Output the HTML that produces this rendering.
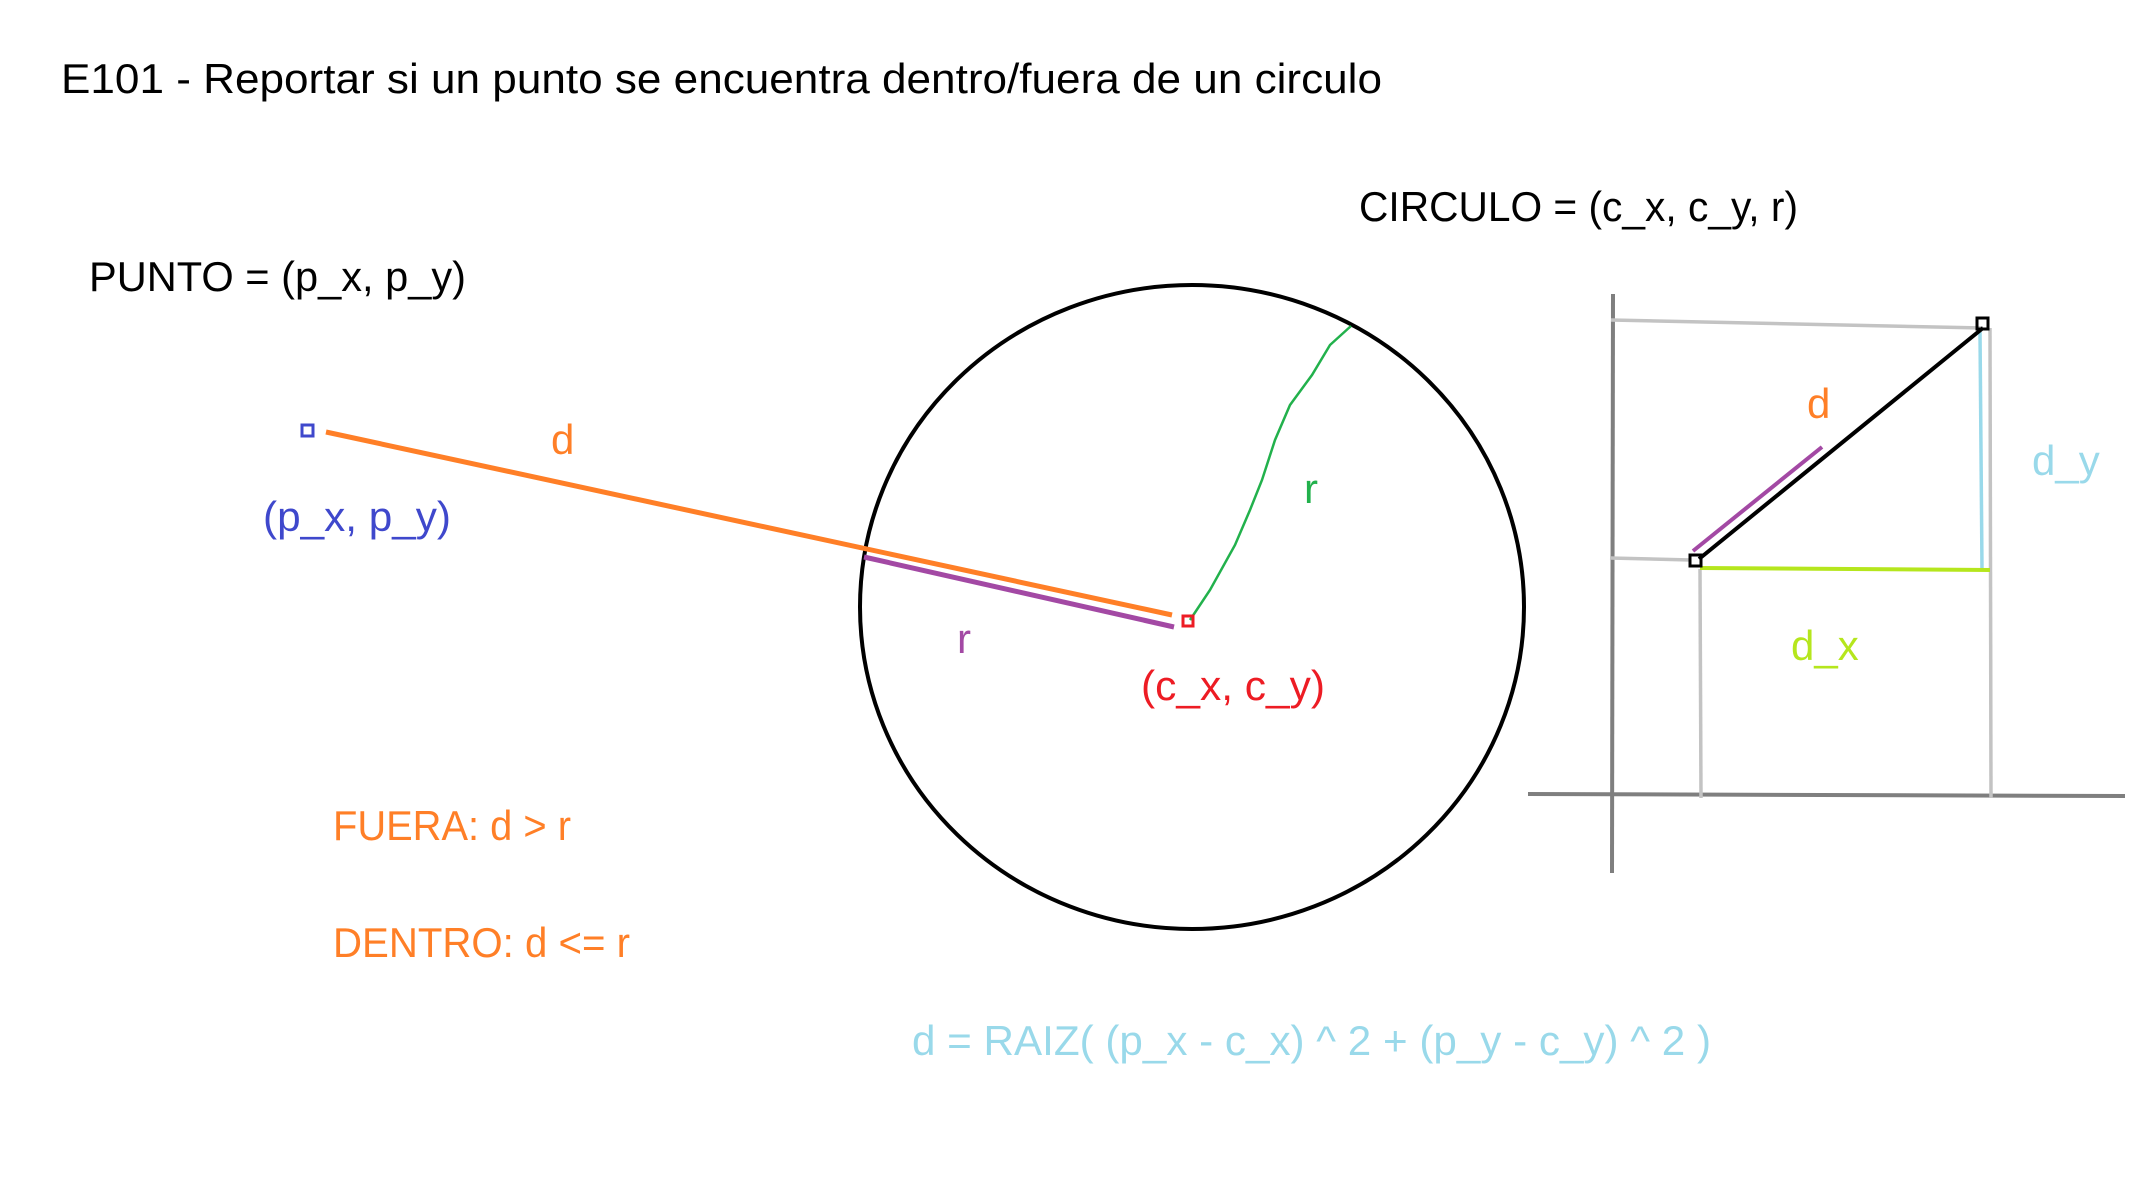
<!DOCTYPE html>
<html><head><meta charset="utf-8"><style>
html,body{margin:0;padding:0;background:#fff;}
svg{display:block;}
text{font-family:"Liberation Sans",sans-serif;font-size:42px;}
</style></head><body>
<svg width="2153" height="1192" viewBox="0 0 2153 1192">
<rect width="2153" height="1192" fill="#fff"/>
<text x="61" y="93" font-size="44" textLength="1321" lengthAdjust="spacingAndGlyphs" fill="#000">E101 - Reportar si un punto se encuentra dentro/fuera de un circulo</text>
<text x="1359" y="221" textLength="439" lengthAdjust="spacingAndGlyphs" fill="#000">CIRCULO = (c_x, c_y, r)</text>
<text x="89" y="291" textLength="377" lengthAdjust="spacingAndGlyphs" fill="#000">PUNTO = (p_x, p_y)</text>

<ellipse cx="1192" cy="607" rx="332" ry="322" fill="none" stroke="#000" stroke-width="4"/>
<polyline points="1190,620 1210,590 1235,545 1250,510 1262,480 1275,440 1290,405 1312,375 1330,345 1351,326" fill="none" stroke="#22b14c" stroke-width="2.5"/>
<line x1="326" y1="432" x2="1172" y2="615" stroke="#ff7f27" stroke-width="5"/>
<line x1="864" y1="557" x2="1174" y2="627" stroke="#a349a4" stroke-width="5"/>
<rect x="302" y="425" width="11" height="11" fill="none" stroke="#3f48cc" stroke-width="3"/>
<rect x="1183" y="616" width="10" height="10" fill="none" stroke="#ed1c24" stroke-width="3"/>
<text x="551" y="454" fill="#ff7f27">d</text>
<text x="263" y="531" textLength="188" lengthAdjust="spacingAndGlyphs" fill="#3f48cc">(p_x, p_y)</text>
<text x="957" y="653" fill="#a349a4">r</text>
<text x="1304" y="503" fill="#22b14c">r</text>
<text x="1141" y="700" textLength="184" lengthAdjust="spacingAndGlyphs" fill="#ed1c24">(c_x, c_y)</text>
<text x="333" y="840" textLength="238" lengthAdjust="spacingAndGlyphs" fill="#ff7f27">FUERA: d &gt; r</text>
<text x="333" y="957" textLength="297" lengthAdjust="spacingAndGlyphs" fill="#ff7f27">DENTRO: d &lt;= r</text>
<text x="912" y="1055" textLength="799" lengthAdjust="spacingAndGlyphs" fill="#99d9ea">d = RAIZ( (p_x - c_x) ^ 2 + (p_y - c_y) ^ 2 )</text>

<g>
<line x1="1613" y1="294" x2="1612" y2="873" stroke="#7f7f7f" stroke-width="4"/>
<line x1="1528" y1="794" x2="2125" y2="796" stroke="#7f7f7f" stroke-width="4"/>
<line x1="1611" y1="320" x2="1983" y2="328" stroke="#c3c3c3" stroke-width="3.5"/>
<line x1="1610" y1="558" x2="1691" y2="560" stroke="#c3c3c3" stroke-width="3.5"/>
<line x1="1700" y1="569" x2="1701" y2="798" stroke="#c3c3c3" stroke-width="3.5"/>
<line x1="1990" y1="328" x2="1991" y2="798" stroke="#c3c3c3" stroke-width="3.5"/>
<line x1="1980" y1="332" x2="1982" y2="569" stroke="#99d9ea" stroke-width="3.5"/>
<line x1="1700" y1="568" x2="1990" y2="570" stroke="#b5e61d" stroke-width="4"/>
<line x1="1699" y1="559" x2="1983" y2="328" stroke="#000" stroke-width="4"/>
<line x1="1693" y1="551" x2="1822" y2="447" stroke="#a349a4" stroke-width="4"/>
<rect x="1977" y="318" width="11" height="11" fill="none" stroke="#000" stroke-width="3"/>
<rect x="1690" y="555" width="11" height="11" fill="none" stroke="#000" stroke-width="3"/>
<text x="1807" y="418" fill="#ff7f27">d</text>
<text x="2032" y="475" fill="#99d9ea">d_y</text>
<text x="1791" y="660" fill="#b5e61d">d_x</text>
</g>
</svg>
</body></html>
